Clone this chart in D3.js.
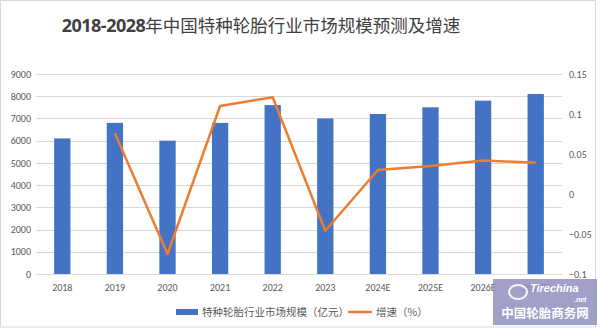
<!DOCTYPE html>
<html>
<head>
<meta charset="utf-8">
<script src="https://cdn.jsdelivr.net/npm/d3@7"></script>
<style>
  html, body { margin: 0; padding: 0; background: #fff; }
  svg { display: block; }
</style>
</head>
<body>
<svg id="chart" width="600" height="329"></svg>
<script>
// Market size (100 million yuan) and growth rate per year
const categories = ["2018", "2019", "2020", "2021", "2022", "2023", "2024E", "2025E", "2026E", "2027E"];
const marketSize = [6100, 6800, 6000, 6800, 7600, 7000, 7200, 7500, 7800, 8100];
const growthRate = [null, 0.076, -0.075, 0.110, 0.121, -0.046, 0.030, 0.035, 0.042, 0.039];
const leftTicks = [0, 1000, 2000, 3000, 4000, 5000, 6000, 7000, 8000, 9000];
const rightTicks = [-0.1, -0.05, 0, 0.05, 0.1, 0.15];

const titleNum = "2018-2028";
const titleText = "年中国特种轮胎行业市场规模预测及增速";
const legendBar = "特种轮胎行业市场规模（亿元）";
const legendLine = "增速（%）";

const svg = d3.select("#chart");
const plot = { left: 36, right: 562, top: 74, bottom: 274 };
const labelColor = "#595959";
const gridColor = "#d9d9d9";
const barColor = "#4472C4";
const lineColor = "#ED7D31";
const font = "Calibri, Carlito, 'Liberation Sans', 'Noto Sans CJK SC', sans-serif";

// outer frame
svg.append("rect")
  .attr("x", 0.5).attr("y", 0.5)
  .attr("width", 595).attr("height", 326.5)
  .attr("fill", "#fff").attr("stroke", "#d9d9d9");

// title
const title = svg.append("text")
  .attr("x", 261).attr("y", 32)
  .attr("text-anchor", "middle")
  .attr("fill", "#404040")
  .style("font-size", "18px");
title.append("tspan")
  .style("font-family", "'Open Sans', 'Liberation Sans', sans-serif")
  .style("font-weight", "700")
  .style("letter-spacing", "-0.5px")
  .text(titleNum);
title.append("tspan")
  .style("font-family", "'Noto Sans CJK SC', sans-serif")
  .style("font-weight", "400")
  .style("font-size", "17.5px")
  .text(titleText);

// scales
const x = d3.scaleBand().domain(categories).range([plot.left, plot.right]).paddingInner(0.69).paddingOuter(0.345);
const yL = d3.scaleLinear().domain([0, 9000]).range([plot.bottom, plot.top]);
const yR = d3.scaleLinear().domain([-0.1, 0.15]).range([plot.bottom, plot.top]);

// gridlines
svg.append("g")
  .selectAll("line")
  .data(leftTicks)
  .join("line")
  .attr("x1", plot.left).attr("x2", plot.right)
  .attr("y1", d => Math.round(yL(d)) + 0.5)
  .attr("y2", d => Math.round(yL(d)) + 0.5)
  .attr("stroke", gridColor).attr("stroke-width", 1);

// left axis
const leftAxis = svg.append("g")
  .attr("transform", `translate(${plot.left - 5},0)`)
  .call(d3.axisLeft(yL).tickValues(leftTicks).tickSize(0).tickPadding(0).tickFormat(d3.format("d")));
leftAxis.select(".domain").remove();
leftAxis.selectAll("text")
  .attr("fill", labelColor)
  .style("font-family", font).style("font-size", "10px");

// right axis
const rightAxis = svg.append("g")
  .attr("transform", `translate(${plot.right + 7},0)`)
  .call(d3.axisRight(yR).tickValues(rightTicks).tickSize(0).tickPadding(0).tickFormat(d => d3.format("")(+d.toFixed(2))));
rightAxis.select(".domain").remove();
rightAxis.selectAll("text")
  .attr("fill", labelColor)
  .style("font-family", font).style("font-size", "10px");

// bottom axis labels
const bottomAxis = svg.append("g")
  .attr("transform", `translate(0,${plot.bottom})`)
  .call(d3.axisBottom(x).tickSize(0).tickPadding(10));
bottomAxis.select(".domain").remove();
bottomAxis.selectAll("text")
  .attr("fill", labelColor)
  .style("font-family", font).style("font-size", "10px");

// bars
svg.append("g")
  .selectAll("rect")
  .data(categories.map((c, i) => ({ c, v: marketSize[i] })))
  .join("rect")
  .attr("x", d => x(d.c))
  .attr("width", x.bandwidth())
  .attr("y", d => yL(d.v))
  .attr("height", d => yL(0) - yL(d.v))
  .attr("fill", barColor);

// growth line
const lineData = categories.map((c, i) => ({ c, v: growthRate[i] })).filter(d => d.v !== null);
svg.append("path")
  .datum(lineData)
  .attr("fill", "none")
  .attr("stroke", lineColor)
  .attr("stroke-width", 2.5)
  .attr("stroke-linejoin", "round")
  .attr("d", d3.line().x(d => x(d.c) + x.bandwidth() / 2).y(d => yR(d.v)));

// legend
const legend = svg.append("g").style("font-family", "'Noto Sans CJK SC', sans-serif").style("font-size", "10.5px");
legend.append("rect").attr("x", 176).attr("y", 309).attr("width", 22).attr("height", 6).attr("fill", barColor);
legend.append("text").attr("x", 202).attr("y", 316).attr("fill", labelColor).text(legendBar);
legend.append("line").attr("x1", 348).attr("x2", 372).attr("y1", 312).attr("y2", 312)
  .attr("stroke", lineColor).attr("stroke-width", 2.5);
legend.append("text").attr("x", 376).attr("y", 316).attr("fill", labelColor).text(legendLine);

// site badge in the lower right corner
const badge = svg.append("g");
badge.append("rect").attr("x", 493).attr("y", 279).attr("width", 104).attr("height", 46)
  .attr("fill", "#8f8fbf").attr("opacity", 0.85);
badge.append("ellipse").attr("cx", 518).attr("cy", 292).attr("rx", 9).attr("ry", 7)
  .attr("fill", "none").attr("stroke", "#fff").attr("stroke-width", 2).attr("opacity", 0.9);
badge.append("text").attr("x", 530).attr("y", 292)
  .attr("fill", "#fff").style("font-family", "'Liberation Sans', sans-serif")
  .style("font-size", "11px").style("font-weight", "700").style("font-style", "italic")
  .text("Tirechina");
badge.append("text").attr("x", 574).attr("y", 302)
  .attr("fill", "#fff").style("font-family", "'Liberation Sans', sans-serif")
  .style("font-size", "7px").style("font-weight", "700").style("font-style", "italic")
  .text(".net");
badge.append("text").attr("x", 545).attr("y", 318).attr("text-anchor", "middle")
  .attr("fill", "#fff").style("font-family", "'Noto Sans CJK SC', sans-serif")
  .style("font-size", "12.5px").style("font-weight", "700")
  .text("中国轮胎商务网");
</script>
</body>
</html>
